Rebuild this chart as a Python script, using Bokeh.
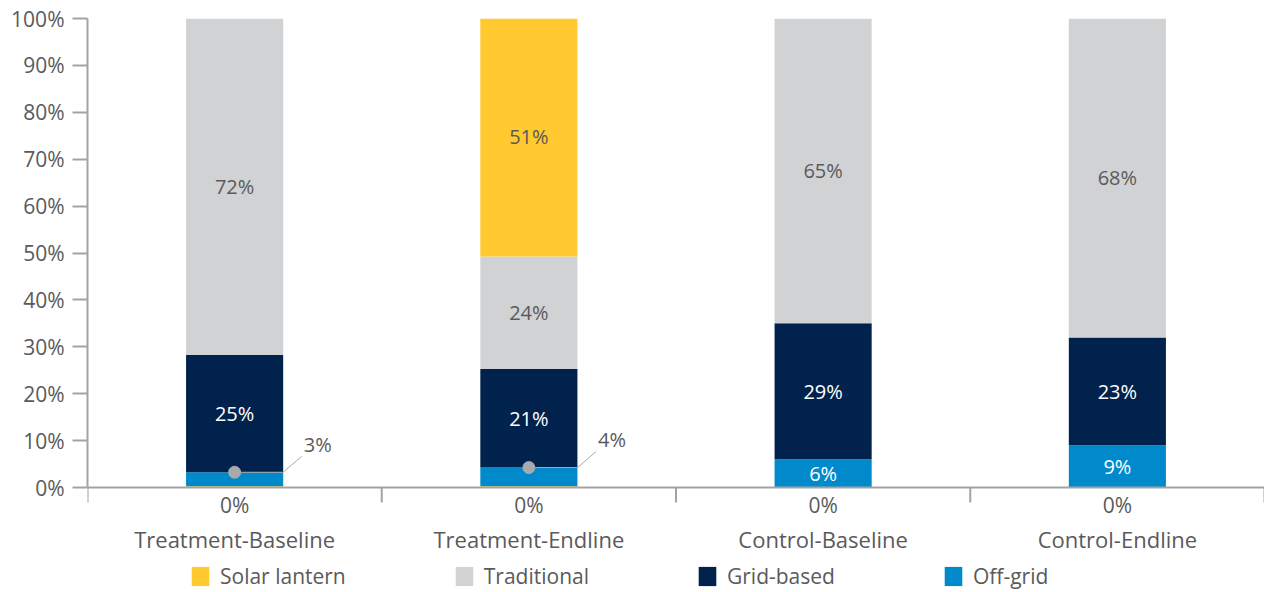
import numpy as np
from bokeh.plotting import figure
from bokeh.models import (Range1d, FixedTicker, LinearAxis, Legend, LegendItem,
                          ColumnDataSource)
from bokeh.core.properties import value
from bokeh.embed import file_html
from bokeh.resources import INLINE

# ---- data (percent of households by main lighting source) ----
groups = ["Treatment-Baseline", "Treatment-Endline", "Control-Baseline", "Control-Endline"]
lantern_base = [0.25, 0.25, 0.0, 0.0]     # solar lantern share shown at the base
off_grid = [3, 4, 6, 9]
grid_based = [25, 21, 29, 23]
traditional = [72, 24, 65, 68]
solar_lantern = [0, 51, 0, 0]
callout_groups = [0, 1]                    # off-grid shares labelled with a leader line
y_ticks = [0, 10, 20, 30, 40, 50, 60, 70, 80, 90, 100]

# ---- styling ----
C_SOLAR = "#FFC92F"
C_TRAD = "#D1D2D4"
C_GRID = "#00224D"
C_OFF = "#008ACB"
C_TEXT = "#5A5A5B"
C_AXIS = "#A3A3A3"
FONT = value("Open Sans")
BAR_W = 0.33
PX = 100 / 469.0          # percent units per screen pixel on the value axis

x = np.arange(len(groups)) + 0.5
n = len(groups)

# cumulative stacking, bottom to top
series = [("base", lantern_base, C_SOLAR),
          ("off", off_grid, C_OFF),
          ("grid", grid_based, C_GRID),
          ("trad", traditional, C_TRAD),
          ("solar", solar_lantern, C_SOLAR)]
bottoms, tops = {}, {}
acc = np.zeros(n)
for key, vals, _ in series:
    v = np.array(vals, dtype=float)
    bottoms[key] = acc.copy()
    tops[key] = acc + v
    acc = acc + v

# the frame reaches down to the window edge so the texts under the axis stay visible
y_low = -105 * PX
p = figure(width=1264, height=592, output_backend="svg", toolbar_location=None,
           x_range=Range1d(0, n), y_range=Range1d(y_low, 100),
           min_border_left=87, min_border_right=0, min_border_top=18,
           min_border_bottom=0, x_axis_type=None, y_axis_type=None)
p.outline_line_color = None
p.grid.visible = False

renderers = {}
for key, vals, color in series:
    idx = [i for i in range(n) if vals[i] > 0]
    src = ColumnDataSource(dict(x=x[idx], bottom=bottoms[key][idx],
                                top=np.minimum(tops[key][idx], 100)))
    renderers[key] = p.vbar(x="x", width=BAR_W, bottom="bottom", top="top", source=src,
                            fill_color=color, line_color=None)

# value axis, limited to 0-100 %
yax = LinearAxis(ticker=FixedTicker(ticks=y_ticks), bounds=(0, 100))
yax.major_label_overrides = {t: f"{t}%" for t in y_ticks}
yax.axis_line_color = C_AXIS
yax.axis_line_width = 2
yax.major_tick_line_color = C_AXIS
yax.major_tick_line_width = 2
yax.major_tick_out = 15
yax.major_tick_in = 0
yax.minor_tick_line_color = None
yax.major_label_standoff = 8
yax.major_label_text_font = "Open Sans"
yax.major_label_text_font_size = "21px"
yax.major_label_text_color = C_TEXT
p.add_layout(yax, "left")

# category baseline with separator ticks between groups
p.segment(x0=[0], y0=[0], x1=[n], y1=[0], line_color=C_AXIS, line_width=2)
sep = np.arange(n + 1)
p.segment(x0=sep, y0=np.zeros(n + 1), x1=sep, y1=np.full(n + 1, -15 * PX),
          line_color=C_AXIS, line_width=2)

def put_text(xs, ys, texts, color, size="20px", align="center"):
    p.text(x=list(xs), y=list(ys), text=list(texts), text_align=align,
           text_baseline="middle", text_font=FONT, text_font_size=size,
           text_color=color)

# labels inside the segments
def seg_labels(key, vals, color, idx):
    mid = (bottoms[key] + tops[key]) / 2
    put_text(x[idx], mid[idx], [f"{round(vals[i])}%" for i in idx], color)

seg_labels("trad", traditional, C_TEXT, [i for i in range(n) if traditional[i] > 0])
seg_labels("grid", grid_based, "white", [i for i in range(n) if grid_based[i] > 0])
seg_labels("solar", solar_lantern, C_TEXT, [i for i in range(n) if solar_lantern[i] > 0])
seg_labels("off", off_grid, "white", [i for i in range(n) if i not in callout_groups])

# leader-line callouts for small off-grid shares
cx = x[callout_groups]
cy = tops["off"][callout_groups]
edge = cx + BAR_W / 2
xs = [[a, b, b + 0.063] for a, b in zip(cx, edge)]
ys = [[c, c, c + 3.4] for c in cy]
p.multi_line(xs=xs, ys=ys, line_color="#A7A9AC", line_width=1)
p.scatter(cx, cy, size=12, color="#A7A9AC")
put_text(edge + 0.07, cy + 6.0, [f"{off_grid[i]}%" for i in callout_groups],
         C_TEXT, align="left")

# base solar-lantern share under the axis, then the group names
put_text(x, [-17 * PX] * n, [f"{round(v)}%" for v in lantern_base], C_TEXT, size="21px")
put_text(x, [-51 * PX] * n, groups, C_TEXT, size="22px")

legend = Legend(items=[LegendItem(label="Solar lantern", renderers=[renderers["solar"]]),
                       LegendItem(label="Traditional", renderers=[renderers["trad"]]),
                       LegendItem(label="Grid-based", renderers=[renderers["grid"]]),
                       LegendItem(label="Off-grid", renderers=[renderers["off"]])],
                orientation="horizontal", location=(102, 2),
                glyph_width=22, glyph_height=24, label_standoff=9, spacing=107,
                padding=0, margin=0, border_line_color=None, background_fill_alpha=0,
                label_text_font="Open Sans", label_text_font_size="21px",
                label_text_color=C_TEXT, label_height=24)
p.add_layout(legend, "center")

open("out.html", "w").write(file_html(p, INLINE))
